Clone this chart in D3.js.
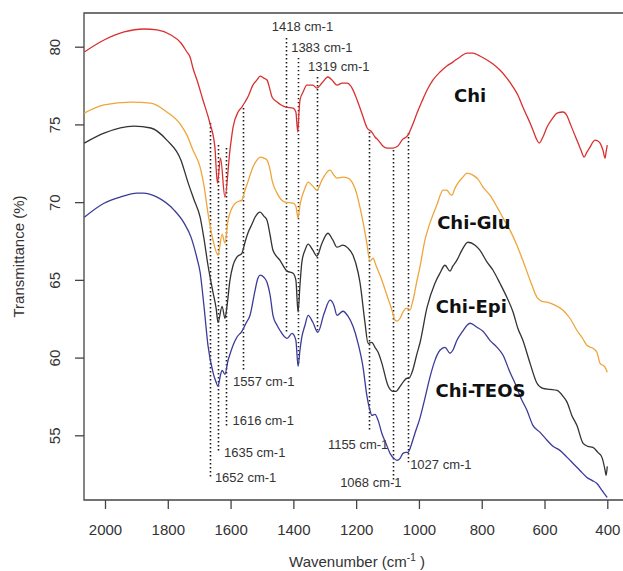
<!DOCTYPE html>
<html>
<head>
<meta charset="utf-8">
<script src="https://cdn.jsdelivr.net/npm/d3@7"></script>
<style>
  body { margin: 0; background: #fff; }
  svg { display: block; font-family: "Liberation Sans", Arial, sans-serif; }
</style>
</head>
<body>
<svg class="chart-ftir" width="623" height="571"></svg>
<script>
//------------------------------------------------------------
//---------------------------DATA-----------------------------

// Chi (red)
var chiWn = [2066,2003,1939,1876,1834,1790,1758,1739,1729,1720,1707,1688,1666,1650,1642,1632,1618,1602,1592,1576,1564,1554,1545,1529,1516,1506,1494,1484,1474,1468,1452,1439,1424,1401,1392,1386,1382,1379,1369,1357,1338,1325,1309,1290,1277,1261,1245,1229,1213,1197,1181,1165,1150,1140,1130,1115,1102,1083,1067,1054,1035,1022,1006,990,974,955,933,911,892,869,847,828,806,783,764,742,720,700,685,669,659,646,637,627,617,605,592,576,560,541,528,519,506,493,484,474,465,455,446,439,430,423,414,407,404,400];
var chiT  = [79.66,80.43,80.95,81.14,81.08,80.75,80.24,79.66,79.34,78.63,77.86,76.57,75.09,73.54,71.22,72.83,70.32,73.35,74.83,75.80,76.12,76.44,76.76,77.53,77.86,78.11,77.98,77.86,77.21,76.76,76.44,76.25,76.12,76.05,75.80,74.51,75.80,76.57,77.08,77.53,77.53,77.34,77.66,78.05,77.86,77.53,77.66,77.66,77.34,76.57,75.67,74.77,74.51,74.19,73.99,73.61,73.48,73.48,73.61,73.99,74.31,74.89,75.73,76.50,77.21,77.86,78.37,78.76,79.01,79.34,79.59,79.59,79.40,79.14,78.89,78.50,77.98,77.40,76.89,76.12,75.67,75.09,74.64,74.12,73.80,74.19,74.83,75.34,75.73,75.80,75.54,75.09,74.44,73.80,73.35,72.90,73.22,73.54,73.86,73.99,73.93,73.80,73.35,72.83,73.22,73.67];

// Chi-Glu (orange)
var gluWn = [2066,2003,1917,1854,1803,1758,1739,1720,1697,1685,1672,1656,1640,1627,1618,1608,1602,1592,1580,1564,1554,1545,1529,1516,1506,1494,1484,1474,1468,1452,1427,1401,1392,1385,1379,1373,1363,1353,1338,1325,1309,1290,1283,1271,1261,1242,1226,1213,1197,1188,1178,1166,1156,1146,1137,1118,1102,1086,1076,1070,1060,1051,1041,1035,1029,1019,1006,997,981,965,943,923,911,901,895,885,876,860,847,828,812,796,774,751,732,710,688,669,646,624,608,592,567,541,519,497,477,465,446,433,423,414,407,400];
var gluT  = [75.73,76.25,76.44,76.37,75.80,74.96,74.31,73.35,72.25,71.09,69.29,67.55,66.59,67.94,67.36,68.84,69.29,69.74,70.00,70.13,70.77,71.29,72.25,72.70,72.90,72.83,72.70,72.06,71.42,70.58,70.00,69.93,69.74,68.97,69.81,70.32,70.90,71.29,71.03,70.77,71.42,71.99,72.06,71.74,71.55,71.61,71.55,71.29,70.45,69.68,68.71,67.36,66.20,66.39,65.94,64.98,64.01,63.05,62.40,62.34,62.53,62.92,63.17,63.17,63.05,63.69,64.98,65.81,67.55,68.65,69.81,70.77,70.77,70.51,70.45,70.90,71.22,71.61,71.87,71.74,71.48,70.97,70.45,69.68,68.97,68.20,67.23,66.25,64.98,63.88,63.62,63.56,63.37,63.05,62.53,61.76,61.18,60.79,60.60,60.34,59.63,59.50,59.37,59.05];

// Chi-Epi (black)
var epiWn = [2066,2003,1908,1854,1803,1758,1736,1717,1697,1685,1672,1656,1646,1640,1627,1618,1611,1602,1592,1580,1564,1554,1545,1532,1522,1506,1494,1484,1474,1465,1443,1420,1401,1392,1385,1379,1373,1363,1353,1338,1325,1309,1290,1274,1261,1242,1226,1210,1194,1188,1172,1162,1150,1140,1130,1118,1099,1083,1073,1060,1051,1038,1032,1022,1006,997,974,949,933,917,901,892,879,863,844,821,806,783,764,742,720,700,685,669,646,624,605,583,560,541,528,513,497,477,462,446,430,417,407,404,400];
var epiT  = [73.80,74.44,74.89,74.77,73.99,72.70,71.29,70.19,69.03,67.68,65.94,64.20,63.17,62.27,63.30,62.53,63.37,64.98,65.94,66.46,66.71,67.42,68.00,68.58,69.03,69.36,69.10,68.84,67.87,66.91,66.27,65.56,65.43,64.98,62.92,64.65,66.13,66.91,67.30,66.91,66.52,67.36,68.00,67.55,67.10,67.23,67.04,66.59,65.49,64.85,62.27,60.92,60.98,60.66,60.34,59.63,58.22,57.83,57.83,58.15,58.41,58.67,58.67,59.05,60.27,60.92,63.24,64.78,65.43,65.94,65.56,65.88,66.27,66.91,67.42,67.23,66.91,66.14,65.62,64.78,63.88,62.92,61.89,61.11,59.63,58.35,58.02,57.96,57.89,57.51,57.12,56.28,55.64,54.48,54.29,54.22,53.90,53.58,52.74,52.42,53.00];

// Chi-TEOS (blue)
var teosWn = [2066,2003,1952,1898,1879,1834,1780,1748,1726,1707,1697,1685,1672,1656,1646,1640,1633,1627,1618,1608,1602,1592,1580,1564,1551,1538,1522,1513,1506,1494,1484,1474,1465,1452,1443,1420,1404,1392,1385,1379,1373,1363,1353,1338,1322,1302,1283,1271,1261,1242,1226,1210,1194,1178,1166,1156,1150,1140,1130,1118,1105,1092,1080,1070,1060,1051,1041,1035,1025,1013,997,981,965,949,933,917,901,892,879,863,837,815,796,774,751,732,710,694,675,656,637,614,592,573,551,528,509,487,465,449,433,417,407,400];
var teosT  = [69.03,69.93,70.32,70.58,70.58,70.32,69.49,68.65,67.75,66.39,65.49,63.37,60.79,59.05,58.41,58.15,58.80,59.18,58.92,59.83,60.21,60.79,61.31,61.69,62.21,62.72,64.33,65.10,65.30,65.17,64.85,64.01,62.72,62.08,61.76,61.24,61.56,61.11,59.44,60.47,61.31,62.08,62.72,62.27,61.63,62.85,63.69,63.37,62.72,62.98,62.66,62.01,60.92,59.37,57.57,56.61,56.28,56.35,55.96,55.12,54.48,53.84,53.52,53.39,53.52,53.84,53.90,53.90,54.35,55.12,56.09,57.38,58.73,59.82,60.47,60.66,60.28,60.47,61.11,61.63,62.21,61.95,61.69,61.11,60.66,60.15,59.05,58.35,57.38,56.61,55.64,55.19,54.68,54.29,54.03,53.58,53.19,52.74,52.29,52.10,51.90,51.45,51.19,51.00];

var seriesNames  = ["Chi", "Chi-Glu", "Chi-Epi", "Chi-TEOS"];
var seriesWn     = [chiWn, gluWn, epiWn, teosWn];
var seriesT      = [chiT, gluT, epiT, teosT];
// where each name is written (wavenumber, transmittance)
var nameWn       = [837, 825, 833, 804];
var nameT        = [76.83, 68.71, 63.30, 57.89];

// axis ticks
var xTicks = [2000, 1800, 1600, 1400, 1200, 1000, 800, 600, 400];
var yTicks = [55, 60, 65, 70, 75, 80];

// band markers: label, wavenumber of the dotted line, top/bottom of the line,
// and where the label sits
var peakNames  = ["1652 cm-1","1635 cm-1","1616 cm-1","1557 cm-1","1418 cm-1","1383 cm-1","1319 cm-1","1155 cm-1","1068 cm-1","1027 cm-1"];
var peakLineWn = [1665, 1641, 1615, 1561, 1424, 1386, 1325, 1158, 1083, 1034];
var peakTop    = [75.09, 73.67, 73.48, 76.05, 80.56, 79.28, 78.05, 74.51, 73.35, 74.44];
var peakBottom = [52.29, 54.03, 55.51, 59.18, 61.56, 59.50, 61.76, 55.32, 52.00, 53.26];
var peakTextWn = [1650, 1621, 1594, 1592, 1469, 1407, 1353, 1290, 1251, 1028];
var peakTextT  = [52.29, 53.92, 55.96, 58.49, 81.33, 79.98, 78.76, 54.42, 51.99, 53.13];

//------------------------------------------------------------
//---------------------------STYLE----------------------------
var corSerie = ["#d9302f", "#efa53a", "#333333", "#3b3b98"];
var corEixo = "#444";

var svg = d3.select(".chart-ftir");

var xScale = d3.scaleLinear().domain([2000, 400]).range([105, 607.3]);
var yScale = d3.scaleLinear().domain([80, 55]).range([46.7, 435.3]);

var frame = { left: 84, top: 13, bottom: 500, right: 640 };

desenhaMoldura();
desenhaEixos();
desenhaMarcadores();
desenhaEspectros();
rotulaEspectros();

//------------------------------------------------------------
// plot box (right side runs off the picture, like the original crop)
function desenhaMoldura() {
  svg.append("path")
    .attr("d", "M" + frame.right + "," + frame.top + "H" + frame.left +
               "V" + frame.bottom + "H" + frame.right)
    .attr("fill", "none")
    .attr("stroke", corEixo)
    .attr("stroke-width", 1.3);
}

// axes, tick labels and titles
function desenhaEixos() {
  var gx = svg.append("g")
    .attr("transform", "translate(0," + frame.bottom + ")")
    .call(d3.axisBottom(xScale).tickValues(xTicks).tickSize(9).tickPadding(15)
      .tickFormat(d3.format("d")));
  gx.select(".domain").remove();
  gx.selectAll("line").attr("stroke", corEixo).attr("stroke-width", 1.3);
  gx.selectAll("text")
    .attr("font-size", "15px")
    .attr("font-family", "Liberation Sans, Arial, sans-serif")
    .attr("fill", "#333");

  var gy = svg.append("g")
    .attr("transform", "translate(" + frame.left + ",0)")
    .call(d3.axisLeft(yScale).tickValues(yTicks).tickSize(9));
  gy.select(".domain").remove();
  gy.selectAll("line").attr("stroke", corEixo).attr("stroke-width", 1.3);
  gy.selectAll("text")
    .attr("x", 0)
    .attr("y", 0)
    .attr("dy", "0.36em")
    .attr("transform", "translate(-29,0) rotate(-90)")
    .attr("text-anchor", "middle")
    .attr("font-size", "15px")
    .attr("font-family", "Liberation Sans, Arial, sans-serif")
    .attr("fill", "#333");

  // x title with superscript
  var tx = svg.append("text")
    .attr("x", 357)
    .attr("y", 567)
    .attr("text-anchor", "middle")
    .attr("font-size", "15px")
    .attr("fill", "#333");
  tx.append("tspan").text("Wavenumber (cm");
  tx.append("tspan").attr("dy", -6).attr("font-size", "10px").text("-1");
  tx.append("tspan").attr("dy", 6).text(" )");

  svg.append("text")
    .attr("transform", "translate(19," + ((frame.top + frame.bottom) / 2) + ") rotate(-90)")
    .attr("dy", "0.36em")
    .attr("text-anchor", "middle")
    .attr("font-size", "15px")
    .attr("fill", "#333")
    .text("Transmittance (%)");
}

// dotted band markers and their labels
function desenhaMarcadores() {
  var idx = d3.range(peakNames.length);

  svg.append("g").selectAll("line")
    .data(idx)
    .enter()
    .append("line")
    .attr("x1", function(i) { return Math.round(xScale(peakLineWn[i])) + 0.5; })
    .attr("x2", function(i) { return Math.round(xScale(peakLineWn[i])) + 0.5; })
    .attr("y1", function(i) { return yScale(peakTop[i]); })
    .attr("y2", function(i) { return yScale(peakBottom[i]); })
    .attr("stroke", "#1a1a1a")
    .attr("stroke-width", 1.6)
    .attr("stroke-dasharray", "1.4,2.6");

  svg.append("g").selectAll("text")
    .data(idx)
    .enter()
    .append("text")
    .attr("x", function(i) { return xScale(peakTextWn[i]); })
    .attr("y", function(i) { return yScale(peakTextT[i]); })
    .attr("dy", "0.36em")
    .attr("font-size", "13px")
    .attr("fill", "#333")
    .text(function(i) { return peakNames[i]; });
}

// the four spectra
function desenhaEspectros() {
  var linha = d3.line()
    .x(function(d) { return xScale(d[0]); })
    .y(function(d) { return yScale(d[1]); })
    .curve(d3.curveMonotoneX);

  svg.append("g").selectAll("path")
    .data(d3.range(seriesNames.length))
    .enter()
    .append("path")
    .attr("d", function(i) { return linha(d3.zip(seriesWn[i], seriesT[i])); })
    .attr("fill", "none")
    .attr("stroke", function(i) { return corSerie[i]; })
    .attr("stroke-width", 1.3)
    .attr("stroke-linejoin", "round");
}

// bold names next to each curve
function rotulaEspectros() {
  svg.append("g").selectAll("text")
    .data(d3.range(seriesNames.length))
    .enter()
    .append("text")
    .attr("x", function(i) { return xScale(nameWn[i]); })
    .attr("y", function(i) { return yScale(nameT[i]); })
    .attr("dy", "0.36em")
    .attr("text-anchor", "middle")
    .attr("font-family", "DejaVu Sans, Verdana, sans-serif")
    .attr("font-weight", "bold")
    .attr("font-size", "18px")
    .attr("fill", "#111")
    .text(function(i) { return seriesNames[i]; });
}
</script>
</body>
</html>
